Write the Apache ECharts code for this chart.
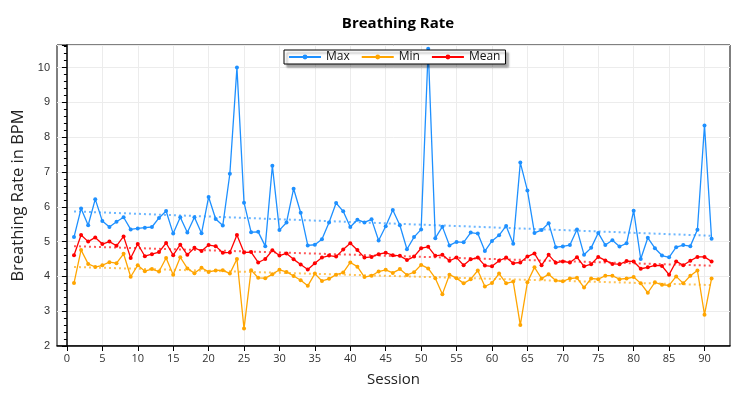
<!DOCTYPE html>
<html>
	<head>
		<meta charset="utf-8">
		<title>Breathing Rate</title>
		<style type="text/css">
			* {
				margin: 0;
				padding: 0;
			}

			html,
			body {
				width: 100%;
				height: 100%;
				background: #fff;
			}

			#main {
				width: 756px;
				height: 400px;
			}
		</style>
	</head>
	<body>
		<div id="main"></div>
		<script src="https://cdn.jsdelivr.net/npm/echarts@6/dist/echarts.min.js"></script>
		<script>
			var sessions = [];
			for (let i = 1; i <= 91; i++) {
				sessions.push(i)
			}

			var maxData = [
				5.13, 5.95, 5.47, 6.22, 5.59, 5.42, 5.57, 5.70, 5.35, 5.38,
				5.40, 5.42, 5.68, 5.88, 5.23, 5.70, 5.26, 5.70, 5.24, 6.28,
				5.65, 5.46, 6.95, 10.0, 6.12, 5.27, 5.28, 4.87, 7.18, 5.33,
				5.55, 6.52, 5.83, 4.89, 4.91, 5.07, 5.55, 6.11, 5.87, 5.42,
				5.63, 5.55, 5.64, 5.03, 5.44, 5.91, 5.47, 4.78, 5.13, 5.35,
				10.54, 5.10, 5.43, 4.89, 4.99, 4.98, 5.26, 5.23, 4.73, 5.02,
				5.18, 5.45, 4.94, 7.27, 6.47, 5.25, 5.33, 5.53, 4.84, 4.86,
				4.90, 5.35, 4.62, 4.82, 5.25, 4.90, 5.04, 4.86, 4.95, 5.89,
				4.50, 5.11, 4.81, 4.60, 4.55, 4.84, 4.90, 4.87, 5.34, 8.34,
				5.08
			]

			var minData = [
				3.81, 4.76, 4.36, 4.27, 4.32, 4.41, 4.38, 4.65, 3.99, 4.32,
				4.15, 4.21, 4.14, 4.53, 4.05, 4.55, 4.23, 4.09, 4.25, 4.13,
				4.17, 4.18, 4.08, 4.50, 2.50, 4.18, 3.96, 3.95, 4.06, 4.19,
				4.13, 4.01, 3.89, 3.73, 4.08, 3.87, 3.93, 4.05, 4.11, 4.40,
				4.28, 3.98, 4.02, 4.14, 4.19, 4.10, 4.21, 4.04, 4.12, 4.33,
				4.23, 3.95, 3.49, 4.05, 3.95, 3.80, 3.92, 4.17, 3.71, 3.81,
				4.08, 3.80, 3.85, 2.60, 3.83, 4.26, 3.94, 4.06, 3.88, 3.86,
				3.94, 3.96, 3.68, 3.94, 3.92, 4.02, 4.02, 3.92, 3.94, 3.98,
				3.80, 3.53, 3.83, 3.76, 3.74, 4.00, 3.80, 4.02, 4.17, 2.90,
				3.94
			]

			var meanData = [
				4.61, 5.19, 5.00, 5.12, 4.93, 5.00, 4.88, 5.15, 4.53, 4.93,
				4.58, 4.64, 4.70, 4.96, 4.61, 4.91, 4.62, 4.82, 4.73, 4.90,
				4.87, 4.68, 4.69, 5.19, 4.69, 4.70, 4.40, 4.50, 4.75, 4.60,
				4.66, 4.49, 4.34, 4.20, 4.38, 4.54, 4.60, 4.57, 4.77, 4.95,
				4.76, 4.54, 4.56, 4.64, 4.68, 4.61, 4.59, 4.47, 4.57, 4.81,
				4.85, 4.59, 4.62, 4.45, 4.54, 4.32, 4.49, 4.54, 4.31, 4.29,
				4.45, 4.54, 4.38, 4.40, 4.57, 4.66, 4.32, 4.62, 4.39, 4.43,
				4.40, 4.55, 4.29, 4.35, 4.56, 4.46, 4.36, 4.35, 4.44, 4.43,
				4.22, 4.26, 4.32, 4.30, 4.05, 4.43, 4.32, 4.45, 4.56, 4.56,
				4.43
			]

			var xTicks = [0, 5, 10, 15, 20, 25, 30, 35, 40, 45, 50, 55, 60, 65, 70, 75, 80, 85, 90]

			function pairs(ys) {
				var out = []
				for (let i = 0; i < ys.length; i++) {
					out.push([sessions[i], ys[i]])
				}
				return out
			}

			// least squares trend line, from first to last session
			function trend(ys) {
				var n = ys.length, sx = 0, sy = 0, sxy = 0, sxx = 0
				for (let i = 0; i < n; i++) {
					sx += sessions[i]
					sy += ys[i]
					sxy += sessions[i] * ys[i]
					sxx += sessions[i] * sessions[i]
				}
				var b = (n * sxy - sx * sy) / (n * sxx - sx * sx)
				var a = (sy - b * sx) / n
				var x0 = sessions[0], x1 = sessions[n - 1]
				return [[x0, a + b * x0], [x1, a + b * x1]]
			}

			function mainSeries(name, color, ys) {
				return {
					name: name,
					type: 'line',
					data: pairs(ys),
					symbol: 'circle',
					symbolSize: 4,
					color: color,
					lineStyle: {
						width: 1.3,
						color: color
					},
					itemStyle: {
						color: color
					},
					z: 3
				}
			}

			function trendSeries(name, color, ys) {
				return {
					name: name,
					type: 'line',
					data: trend(ys),
					symbol: 'none',
					silent: true,
					lineStyle: {
						width: 2,
						type: [2, 3],
						color: color,
						opacity: 0.65
					},
					z: 2
				}
			}

			var myChart = echarts.init(document.getElementById('main'));
			var fontFam = 'Open Sans, DejaVu Sans, sans-serif'
			var option = {
				animation: false,
				backgroundColor: '#fff',
				title: {
					text: 'Breathing Rate',
					left: 393,
					textAlign: 'center',
					top: 11,
					textStyle: {
						fontFamily: fontFam,
						fontWeight: 'bold',
						fontSize: 15,
						color: '#000'
					}
				},
				legend: {
					data: ['Max', 'Min', 'Mean'],
					left: 284,
					top: 50,
					itemWidth: 32,
					itemHeight: 6,
					itemGap: 11,
					padding: [1, 5, 1, 4],
					backgroundColor: '#fff',
					borderColor: '#000',
					borderWidth: 1,
					borderRadius: 0,
					shadowColor: 'rgba(0,0,0,0.35)',
					shadowBlur: 2,
					shadowOffsetX: 3,
					shadowOffsetY: 3,
					textStyle: {
						fontFamily: fontFam,
						fontSize: 12,
						color: '#111'
					}
				},
				grid: {
					left: 57,
					right: 26,
					top: 45,
					bottom: 54,
					show: true,
					borderColor: '#000',
					borderWidth: 1
				},
				xAxis: {
					type: 'value',
					min: -1.4,
					max: 93.6,
					name: 'Session',
					nameLocation: 'middle',
					nameGap: 26,
					nameTextStyle: {
						fontFamily: fontFam,
						fontSize: 15,
						color: '#222'
					},
					axisLine: {
						lineStyle: {
							color: '#000',
							width: 1.5
						}
					},
					axisTick: {
						customValues: xTicks,
						length: 5,
						lineStyle: {
							color: '#000'
						}
					},
					axisLabel: {
						customValues: xTicks,
						margin: 7,
						fontFamily: fontFam,
						fontSize: 11,
						color: '#333'
					},
					splitLine: {
						show: true,
						lineStyle: {
							color: '#ececec'
						}
					}
				},
				yAxis: {
					type: 'value',
					min: 2,
					max: 10.65,
					interval: 1,
					name: 'Breathing Rate in BPM',
					nameLocation: 'middle',
					nameGap: 27,
					nameTextStyle: {
						fontFamily: fontFam,
						fontSize: 16.5,
						color: '#222'
					},
					axisLine: {
						show: true,
						lineStyle: {
							color: '#000',
							width: 1.5
						}
					},
					axisTick: {
						show: true,
						length: 5,
						lineStyle: {
							color: '#000'
						}
					},
					minorTick: {
						show: true,
						splitNumber: 5,
						length: 3,
						lineStyle: {
							color: '#000'
						}
					},
					axisLabel: {
						showMaxLabel: false,
						margin: 7,
						fontFamily: 'Liberation Sans, Arial, sans-serif',
						fontSize: 11,
						color: '#333'
					},
					splitLine: {
						show: true,
						lineStyle: {
							color: '#ececec'
						}
					}
				},
				series: [
					trendSeries('Max trend', '#1e90ff', maxData),
					trendSeries('Min trend', '#ffa500', minData),
					trendSeries('Mean trend', '#ff0000', meanData),
					mainSeries('Max', '#1e90ff', maxData),
					mainSeries('Min', '#ffa500', minData),
					mainSeries('Mean', '#ff0000', meanData)
				]
			};
			myChart.setOption(option);
		</script>
	</body>
</html>
